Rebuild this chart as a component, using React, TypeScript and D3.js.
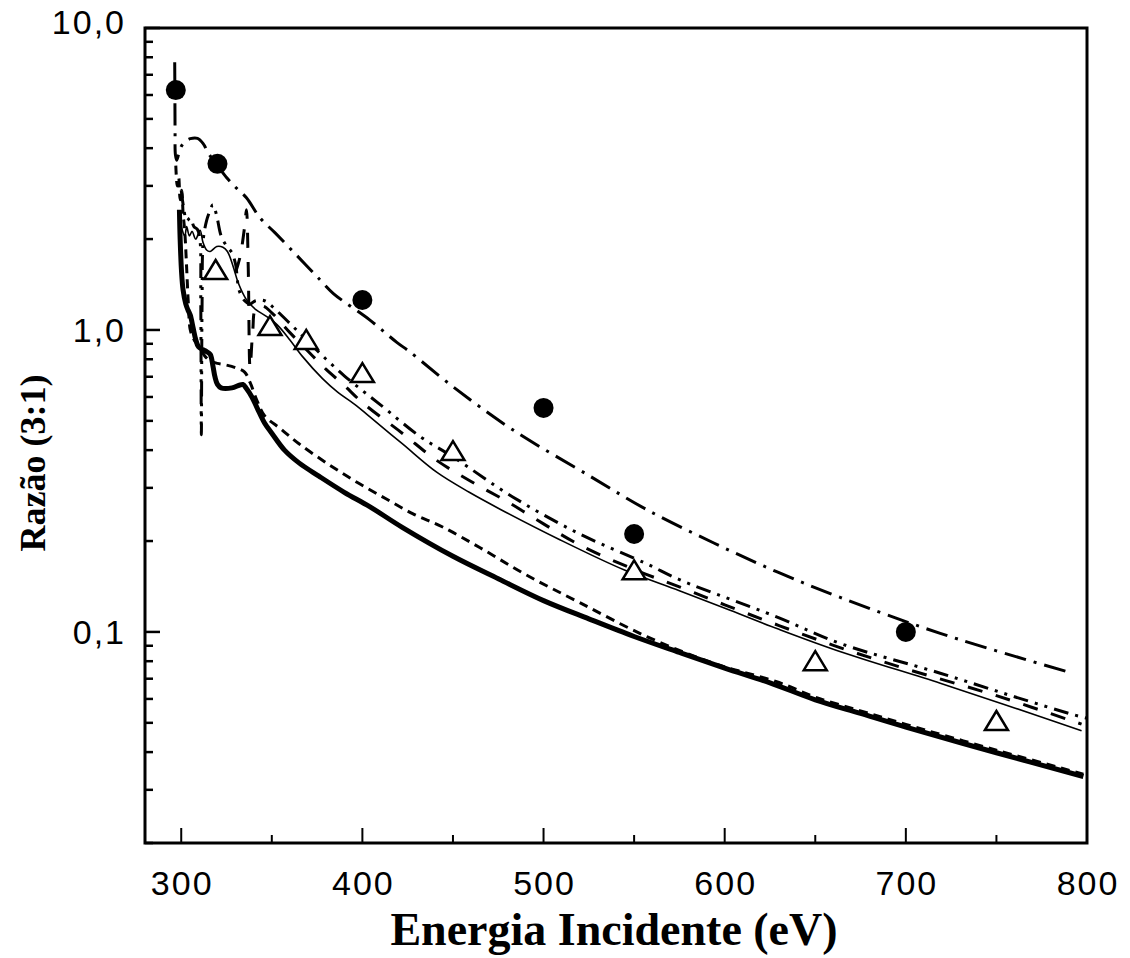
import React from 'react';
import * as d3 from 'd3';

type P = [number, number];

// Axis definitions
const xDomain: [number, number] = [280, 800];
const yDomain: [number, number] = [0.02, 10];
const xMajorTicks = [300, 400, 500, 600, 700, 800];
const xMinorTicks = [350, 450, 550, 650, 750];
const yMajorTicks = [0.1, 1, 10];
const yLabels = ['0,1', '1,0', '10,0'];

// Experimental points
const circleE = [297, 320, 400, 500, 550, 700];
const circleR = [6.23, 3.55, 1.257, 0.552, 0.211, 0.1];
const triangleE = [319, 349, 369, 400, 450, 550, 650, 750];
const triangleR = [1.58, 1.03, 0.927, 0.72, 0.397, 0.16, 0.08, 0.0507];

// Theory curves
const thickCurve: P[] = [
  [299, 2.5], [299.4, 2.0], [300.2, 1.55], [301, 1.36], [302.5, 1.22], [303.7, 1.165], [305, 1.12],
  [306.5, 1.02], [308, 0.93], [309.5, 0.88], [312, 0.86], [314, 0.848], [316, 0.83], [317.5, 0.76],
  [318.6, 0.7], [320, 0.66], [322, 0.643], [328, 0.643], [332, 0.656], [334, 0.66], [336, 0.64],
  [339, 0.6], [342, 0.55], [346, 0.492], [350, 0.455], [357, 0.4], [365, 0.363], [376, 0.328],
  [390, 0.29], [404, 0.26], [422, 0.222], [450, 0.178], [475, 0.15], [500, 0.127], [525, 0.1105],
  [550, 0.0966], [575, 0.0855], [600, 0.0759], [625, 0.0678], [650, 0.0596], [675, 0.0537],
  [700, 0.0484], [750, 0.0398], [798, 0.0332],
];

const thinCurve: P[] = [
  [299.5, 2.4], [300.5, 2.15], [302, 2.05], [303, 2.2], [304.5, 2.05], [306, 2.12], [308, 2.0],
  [310.4, 2.14], [312, 1.95], [314, 1.84], [316, 1.82], [319.6, 1.89], [323, 1.88], [325.5, 1.82],
  [328.7, 1.62], [331.5, 1.43], [336, 1.26], [341, 1.17], [347, 1.11], [353, 1.04], [360, 0.927],
  [367, 0.816], [378, 0.69], [386, 0.625], [397, 0.56], [404, 0.516], [422, 0.42], [441, 0.338],
  [459, 0.29], [476, 0.255], [509, 0.202], [545, 0.16], [575, 0.137], [603, 0.118], [630, 0.102],
  [664, 0.086], [719, 0.0676], [760, 0.056], [797, 0.0471],
];

const shortDashCurve: P[] = [
  [297, 3.5], [297.8, 3.0], [298.6, 3.2], [299.4, 2.7], [300.3, 2.9], [301, 2.45], [302, 2.1],
  [303, 1.6], [304, 1.2], [305, 1.0], [307, 0.93], [310, 0.88], [313, 0.82], [316, 0.79],
  [320, 0.775], [325, 0.765], [330, 0.75], [335, 0.725], [338, 0.67], [342, 0.58], [346, 0.52],
  [355, 0.47], [365, 0.42], [381, 0.36], [397, 0.313], [413, 0.276], [428, 0.246], [444, 0.223],
  [465, 0.19], [490, 0.155], [520, 0.125], [557, 0.0965], [594, 0.0787], [630, 0.068],
  [650, 0.0608], [675, 0.0548], [700, 0.0494], [750, 0.0406], [798, 0.0338],
];

const dashDotCurve: P[] = [
  [296.4, 7.7], [296.5, 6.0], [296.6, 4.6], [296.8, 3.8], [297.5, 3.65], [298.5, 3.8], [300, 4.05],
  [302, 4.2], [305, 4.3], [309, 4.31], [312, 4.15], [315, 3.85], [318, 3.62], [320, 3.5],
  [325, 3.2], [330, 2.97], [336, 2.74], [343.5, 2.35], [351.7, 2.1], [364, 1.76], [376.6, 1.466],
  [384, 1.32], [404, 1.08], [419, 0.91], [426, 0.848], [450, 0.649], [483, 0.467], [526, 0.327],
  [557, 0.254], [594, 0.197], [629, 0.158], [664, 0.13], [719, 0.0989], [792, 0.073],
];

const dashDotDotCurve: P[] = [
  [300, 2.9], [301.5, 2.5], [303, 2.3], [305, 2.35], [307, 2.2], [309, 2.15], [310.3, 2.0],
  [310.8, 1.2], [311.1, 0.45], [311.5, 1.2], [312.2, 2.0], [314, 2.3], [315.5, 2.45], [317.5, 2.6],
  [319.5, 2.4], [322, 2.05], [325, 1.9], [328, 1.8], [330, 1.65], [332, 1.35], [335, 1.25],
  [338, 1.22], [341, 1.25], [346, 1.25], [350, 1.2], [360, 1.05], [369, 0.93], [380, 0.8],
  [390, 0.705], [400, 0.63], [410, 0.565], [432, 0.443], [450, 0.38], [483, 0.28], [520, 0.211],
  [557, 0.168], [575, 0.149], [629, 0.112], [664, 0.0915], [719, 0.073], [760, 0.061],
  [796, 0.0525], [804, 0.0512],
];

const longDashCurve: P[] = [
  [330, 1.55], [332.5, 1.75], [335, 2.2], [336, 2.5], [337, 1.6], [338, 0.75], [339.5, 1.0],
  [341, 1.17], [345, 1.2], [350, 1.14], [360, 0.98], [370, 0.85], [380, 0.74], [390, 0.655],
  [400, 0.575], [422, 0.455], [441, 0.37], [460, 0.315], [480, 0.27], [500, 0.228], [520, 0.194],
  [550, 0.161], [575, 0.141], [600, 0.123], [630, 0.105], [664, 0.0886], [700, 0.0755],
  [750, 0.0615], [797, 0.0495],
];

const LEFT = 145, RIGHT = 1087, TOP = 28, BOTTOM = 843;

export default function App() {
  const x = d3.scaleLinear().domain(xDomain).range([LEFT, RIGHT]);
  const y = d3.scaleLog().domain(yDomain).range([BOTTOM, TOP]);
  const line = d3
    .line<P>()
    .x((d) => x(d[0]))
    .y((d) => y(d[1]))
    .curve(d3.curveCatmullRom.alpha(0.5));

  const yMinor: number[] = [];
  [0.01, 0.1, 1].forEach((dec) => {
    for (let k = 2; k <= 9; k++) {
      const v = dec * k;
      if (v >= yDomain[0] && v < yDomain[1]) yMinor.push(v);
    }
  });

  const curves: { data: P[]; w: number; dash?: string }[] = [
    { data: thickCurve, w: 5 },
    { data: thinCurve, w: 1.6 },
    { data: shortDashCurve, w: 3, dash: '9 6' },
    { data: dashDotCurve, w: 3, dash: '22 8 3 8' },
    { data: dashDotDotCurve, w: 3, dash: '15 7 3 7 3 7' },
    { data: longDashCurve, w: 3, dash: '15 14' },
  ];

  const tri = (cx: number, cy: number) =>
    `M${cx},${cy - 10}L${cx + 11.5},${cy + 9}L${cx - 11.5},${cy + 9}Z`;

  return (
    <svg
      width={1130}
      height={958}
      style={{ position: 'absolute', left: 0, top: 0, background: '#fff' }}
    >
      <rect x={0} y={0} width={1130} height={958} fill="#fff" />
      {curves.map((c, i) => (
        <path
          key={i}
          d={line(c.data) || ''}
          fill="none"
          stroke="#000"
          strokeWidth={c.w}
          strokeDasharray={c.dash}
          strokeLinejoin="round"
        />
      ))}
      {circleE.map((e, i) => (
        <circle key={'c' + i} cx={x(e)} cy={y(circleR[i])} r={10} fill="#000" />
      ))}
      {triangleE.map((e, i) => (
        <path
          key={'t' + i}
          d={tri(x(e), y(triangleR[i]))}
          fill="#fff"
          stroke="#000"
          strokeWidth={2.5}
          strokeLinejoin="miter"
        />
      ))}
      <rect
        x={LEFT}
        y={TOP}
        width={RIGHT - LEFT}
        height={BOTTOM - TOP}
        fill="none"
        stroke="#000"
        strokeWidth={3}
      />
      {yMajorTicks.map((v) => (
        <line key={'ym' + v} x1={LEFT} x2={LEFT + 15} y1={y(v)} y2={y(v)} stroke="#000" strokeWidth={2.5} />
      ))}
      {yMinor.map((v) => (
        <line key={'yn' + v} x1={LEFT} x2={LEFT + 8} y1={y(v)} y2={y(v)} stroke="#000" strokeWidth={2.5} />
      ))}
      {xMajorTicks.map((v) => (
        <line key={'xm' + v} x1={x(v)} x2={x(v)} y1={BOTTOM} y2={BOTTOM - 15} stroke="#000" strokeWidth={2} />
      ))}
      {xMinorTicks.map((v) => (
        <line key={'xn' + v} x1={x(v)} x2={x(v)} y1={BOTTOM} y2={BOTTOM - 8} stroke="#000" strokeWidth={2} />
      ))}
      {yMajorTicks.map((v, i) => (
        <text
          key={'yl' + v}
          x={126}
          y={y(v) + (v === 10 ? 6 : 12)}
          textAnchor="end"
          fontFamily="'Liberation Sans', Arial, sans-serif"
          fontSize={34}
          letterSpacing={2}
          fill="#000"
        >
          {yLabels[i]}
        </text>
      ))}
      {xMajorTicks.map((v) => (
        <text
          key={'xl' + v}
          x={x(v) + 1}
          y={895}
          textAnchor="middle"
          fontFamily="'Liberation Sans', Arial, sans-serif"
          fontSize={34}
          letterSpacing={2}
          fill="#000"
        >
          {v}
        </text>
      ))}
      <text
        x={614}
        y={945}
        textAnchor="middle"
        fontFamily="'Liberation Serif', 'Times New Roman', serif"
        fontWeight="bold"
        fontSize={46}
        fill="#000"
      >
        Energia Incidente (eV)
      </text>
      <text
        transform={`translate(45,463) rotate(-90)`}
        textAnchor="middle"
        fontFamily="'Liberation Serif', 'Times New Roman', serif"
        fontWeight="bold"
        fontSize={36}
        fill="#000"
      >
        Razão (3:1)
      </text>
    </svg>
  );
}
